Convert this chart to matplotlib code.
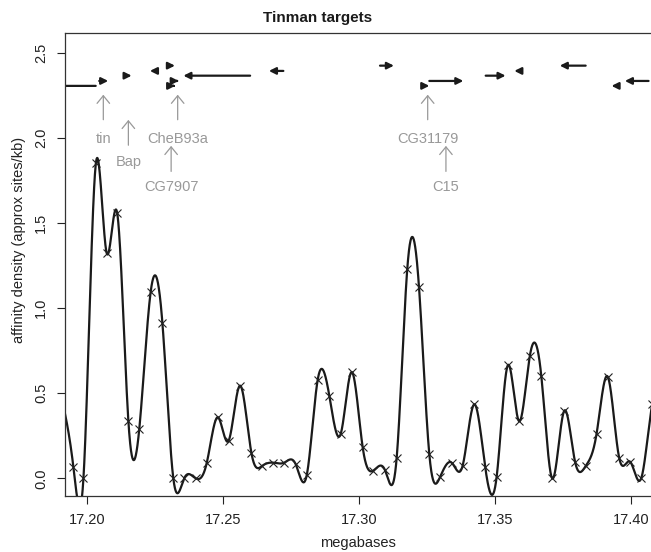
import numpy as np
import matplotlib
matplotlib.use("Agg")
import matplotlib.pyplot as plt
from matplotlib.patches import FancyArrowPatch

plt.rcParams['font.family'] = ['Liberation Sans', 'DejaVu Sans']

# affinity density sampled along the region (megabases, sites/kb)
pos_mb = [17.1900, 17.1951, 17.1988, 17.2034, 17.2073, 17.2112, 17.2153, 17.2193,
          17.2235, 17.2278, 17.2318, 17.2358, 17.2400, 17.2441, 17.2481, 17.2521,
          17.2563, 17.2605, 17.2645, 17.2685, 17.2725, 17.2767, 17.2808, 17.2848,
          17.2891, 17.2933, 17.2973, 17.3013, 17.3052, 17.3095, 17.3138, 17.3177,
          17.3220, 17.3258, 17.3297, 17.3340, 17.3380, 17.3423, 17.3463, 17.3505,
          17.3546, 17.3587, 17.3627, 17.3669, 17.3709, 17.3753, 17.3793, 17.3832,
          17.3872, 17.3913, 17.3955, 17.3995, 17.4036, 17.4077, 17.4118]
density = [0.52, 0.068, 0.0, 1.857, 1.327, 1.559, 0.337, 0.290,
           1.098, 0.912, 0.0, 0.0, 0.0, 0.092, 0.359, 0.221,
           0.545, 0.147, 0.074, 0.092, 0.092, 0.084, 0.019, 0.578,
           0.484, 0.263, 0.625, 0.186, 0.045, 0.049, 0.118, 1.231,
           1.127, 0.141, 0.006, 0.092, 0.072, 0.435, 0.068, 0.006,
           0.664, 0.337, 0.719, 0.604, 0.0, 0.396, 0.098, 0.072,
           0.261, 0.598, 0.121, 0.098, 0.0, 0.44, 0.50]

# genes: tail and head of each arrow (head shows strand), and track level
gene_tail = [17.2033, 17.2046, 17.2143, 17.2257, 17.2296, 17.2318, 17.2330, 17.2600,
             17.2722, 17.3077, 17.3239, 17.3258, 17.3465, 17.3592, 17.3832, 17.3949,
             17.4063]
gene_head = [17.1700, 17.2079, 17.2165, 17.2232, 17.2324, 17.2325, 17.2338, 17.2355,
             17.2669, 17.3128, 17.3258, 17.3383, 17.3538, 17.3570, 17.3737, 17.3927,
             17.3976]
gene_level = [2.308, 2.337, 2.368, 2.396, 2.427, 2.308, 2.337, 2.368,
              2.396, 2.427, 2.308, 2.337, 2.368, 2.396, 2.427, 2.308,
              2.337]

# labelled targets
target_names = ['tin', 'Bap', 'CheB93a', 'CG7907', 'CG31179', 'C15']
target_pos = [17.2061, 17.2153, 17.2334, 17.2310, 17.3252, 17.3319]
target_row = [0, 1, 0, 2, 0, 2]

xticks = [17.20, 17.25, 17.30, 17.35, 17.40]
yticks = [0.0, 0.5, 1.0, 1.5, 2.0, 2.5]


def natural_spline(x, y, xs):
    x = np.asarray(x, float)
    y = np.asarray(y, float)
    n = len(x)
    h = np.diff(x)
    A = np.zeros((n, n))
    b = np.zeros(n)
    A[0, 0] = A[-1, -1] = 1.0
    for i in range(1, n - 1):
        A[i, i - 1] = h[i - 1]
        A[i, i] = 2 * (h[i - 1] + h[i])
        A[i, i + 1] = h[i]
        b[i] = 6 * ((y[i + 1] - y[i]) / h[i] - (y[i] - y[i - 1]) / h[i - 1])
    M = np.linalg.solve(A, b)
    k = np.clip(np.searchsorted(x, xs) - 1, 0, n - 2)
    t0 = xs - x[k]
    t1 = x[k + 1] - xs
    hk = h[k]
    return (M[k] * t1 ** 3 / (6 * hk) + M[k + 1] * t0 ** 3 / (6 * hk)
            + (y[k] / hk - M[k] * hk / 6) * t1 + (y[k + 1] / hk - M[k + 1] * hk / 6) * t0)


fig = plt.figure(figsize=(6.51, 5.52), dpi=100)
ax = fig.add_axes([65 / 651, 56 / 552, 595 / 651, 463 / 552])

xs = np.linspace(pos_mb[0], pos_mb[-1], 3000)
ax.plot(xs, natural_spline(pos_mb, density, xs), color='#1a1a1a', lw=1.6)
ax.plot(pos_mb, density, ls='none', marker='x', ms=6, mew=0.8, color='#222222')

for t, h, lv in zip(gene_tail, gene_head, gene_level):
    arr = FancyArrowPatch((t, lv), (h, lv), arrowstyle='-|>,head_length=0.4,head_width=0.2',
                          mutation_scale=10, lw=1.6, color='#1a1a1a',
                          shrinkA=0, shrinkB=0)
    ax.add_patch(arr)

grey = '#999999'
row_tip = [2.256, 2.108, 1.955]
row_tail = [2.109, 1.959, 1.805]
row_text = [1.996, 1.860, 1.715]
for name, p, r in zip(target_names, target_pos, target_row):
    ax.annotate('', xy=(p, row_tip[r]), xytext=(p, row_tail[r]),
                arrowprops=dict(arrowstyle='->,head_length=0.55,head_width=0.45',
                                color=grey, lw=0.9, shrinkA=0, shrinkB=0))
    ax.text(p, row_text[r], name, color=grey, fontsize=10.5, ha='center', va='center')

ax.set_xlim(17.19203, 17.4105)
ax.set_ylim(-0.104, 2.619)
ax.set_xticks(xticks)
ax.set_xticklabels(['%.2f' % v for v in xticks])
ax.set_yticks(yticks)
ax.set_yticklabels(['%.1f' % v for v in yticks], rotation=90, va='center')
ax.tick_params(direction='out', length=6, width=0.8, labelsize=10.5, colors='#222222', pad=6)
for s in ax.spines.values():
    s.set_linewidth(0.9)
    s.set_color('#333333')

fig.text(318 / 651, 1 - 18 / 552, 'Tinman targets', fontsize=11, fontweight='bold',
         ha='center', va='center', color='#1a1a1a')
fig.text(358 / 651, 1 - 543 / 552, 'megabases', fontsize=10.5, ha='center', va='center',
         color='#222222')
fig.text(19 / 651, 1 - 240 / 552, 'affinity density (approx sites/kb)', fontsize=10.5,
         rotation=90, ha='center', va='center', color='#222222')

fig.savefig('out.png', dpi=100)
